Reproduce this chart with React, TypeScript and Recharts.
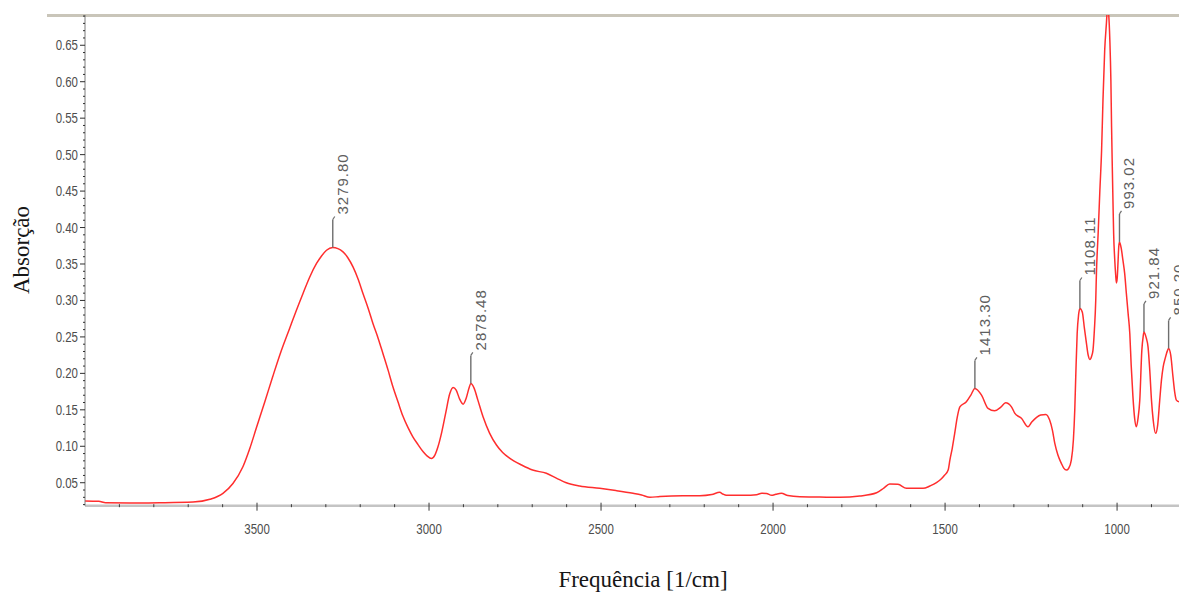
import React from 'react';
import { LineChart, Line, XAxis, YAxis, ReferenceDot } from 'recharts';

// FTIR absorbance spectrum, wavenumber in 1/cm (descending), absorbance values
const wavenumbers = [
  4000, 3960, 3940, 3870, 3783, 3686, 3637, 3599, 3570, 3541, 3521, 3502, 3478, 3454, 3431, 3405,
  3386, 3366, 3347, 3327, 3313, 3298, 3279.8, 3250, 3236, 3221, 3206, 3192, 3177, 3163, 3148, 3134,
  3119, 3105, 3090, 3076, 3061, 3047, 3032, 3017, 3005, 2993, 2983, 2974, 2963, 2951, 2940, 2930,
  2921, 2911, 2901, 2892, 2883, 2878.48, 2869, 2858, 2843, 2824, 2804, 2786, 2765, 2731, 2699, 2659,
  2630, 2601, 2562, 2504, 2457, 2407, 2382, 2358, 2329, 2263, 2213, 2178, 2155, 2146, 2136, 2082,
  2048, 2033, 2019, 2004, 1992, 1976, 1957, 1922, 1864, 1806, 1748, 1699, 1678, 1661, 1637, 1612,
  1588, 1564, 1544, 1525, 1513, 1501, 1491, 1486, 1479, 1472, 1465, 1457, 1438, 1425, 1413.3, 1394,
  1375, 1356, 1338, 1324, 1307, 1297, 1278, 1259, 1248, 1234, 1222, 1207, 1196, 1188, 1181, 1172,
  1162, 1155, 1147, 1141, 1133, 1127, 1123, 1120, 1116, 1112, 1108.11, 1101, 1095, 1089, 1084, 1079,
  1074, 1070, 1066, 1062, 1060, 1055, 1050, 1045, 1041, 1036, 1031, 1028, 1025, 1021, 1018, 1016,
  1014, 1012, 1010, 1007, 1004, 1002, 999.6, 997, 995, 993.02, 988, 983, 978, 973, 968, 963,
  959, 954, 949, 944, 939, 934, 928, 924, 921.84, 915, 910, 905, 900, 895, 888, 882,
  876, 871, 866, 860, 854, 850.2, 844, 837.5, 832.5, 827.6, 820,
];

const absorbance = [
  0.025, 0.0245, 0.0225, 0.0222, 0.0225, 0.0235, 0.0273, 0.0355, 0.049, 0.072, 0.097, 0.125, 0.16, 0.196, 0.229, 0.262,
  0.286, 0.31, 0.3319, 0.3507, 0.3607, 0.3689, 0.3726, 0.3666, 0.3586, 0.346, 0.3291, 0.3096, 0.2894, 0.2684, 0.2483, 0.2273,
  0.2044, 0.1816, 0.1606, 0.1414, 0.1255, 0.113, 0.1023, 0.0925, 0.0866, 0.0834, 0.088, 0.0993, 0.1195, 0.1469, 0.1716, 0.1807,
  0.177, 0.1647, 0.1578, 0.166, 0.1811, 0.1862, 0.1798, 0.1633, 0.1404, 0.1181, 0.1017, 0.0914, 0.0834, 0.0743, 0.0674, 0.0629,
  0.0564, 0.05, 0.0455, 0.0423, 0.0393, 0.0355, 0.0331, 0.03, 0.0311, 0.0322, 0.0322, 0.0338, 0.0368, 0.0345, 0.0327, 0.0327,
  0.0336, 0.0355, 0.0352, 0.0327, 0.0341, 0.0355, 0.0325, 0.0308, 0.0304, 0.03, 0.0318, 0.0363, 0.0427, 0.0482, 0.0478, 0.0423,
  0.0423, 0.0423, 0.0455, 0.05, 0.0544, 0.0606, 0.0674, 0.0811, 0.0976, 0.1177, 0.1387, 0.1541, 0.161, 0.1702, 0.1794, 0.1702,
  0.152, 0.1487, 0.1537, 0.1596, 0.1541, 0.1451, 0.1383, 0.1267, 0.1332, 0.1396, 0.1428, 0.1437, 0.1359, 0.1222, 0.104, 0.088,
  0.0766, 0.0701, 0.0674, 0.0695, 0.0811, 0.1085, 0.1496, 0.1976, 0.2547, 0.2798, 0.289, 0.2839, 0.262, 0.241, 0.225, 0.2191,
  0.2236, 0.2319, 0.2593, 0.3004, 0.3374, 0.3922, 0.4511, 0.5059, 0.5745, 0.643, 0.68, 0.7, 0.695, 0.6567, 0.6018, 0.5379,
  0.4854, 0.4374, 0.3922, 0.3579, 0.3346, 0.3241, 0.3305, 0.3552, 0.3744, 0.3803, 0.3717, 0.3552, 0.3374, 0.3096, 0.2826, 0.2547,
  0.2113, 0.1688, 0.1387, 0.1267, 0.1387, 0.1633, 0.2319, 0.251, 0.2569, 0.2483, 0.2364, 0.2044, 0.1633, 0.1359, 0.1177, 0.1291,
  0.1633, 0.1907, 0.209, 0.2209, 0.2305, 0.2342, 0.225, 0.1953, 0.1743, 0.1633, 0.161,
];

// Annotated peak positions and their printed labels
const peakWavenumbers = [3279.8, 2878.48, 1413.3, 1108.11, 993.02, 921.84, 850.2];
const peakLabels = ['3279.80', '2878.48', '1413.30', '1108.11', '993.02', '921.84', '850.20'];

// Axis tick labels
const xTickLabels = [3500, 3000, 2500, 2000, 1500, 1000];
const yTickLabels = ['0.05', '0.10', '0.15', '0.20', '0.25', '0.30', '0.35', '0.40', '0.45', '0.50', '0.55', '0.60', '0.65'];

const X_DOMAIN: [number, number] = [820, 4000];
const Y_DOMAIN: [number, number] = [0.0185, 0.6915];

const spectrum = wavenumbers.map((wn, i) => ({ wn, abs: absorbance[i] }));

const xMinorTicks: number[] = [];
for (let w = 900; w <= 3900; w += 100) xMinorTicks.push(w);
const yMinorTicks: number[] = [];
for (let k = 2; k <= 69; k++) yMinorTicks.push(k / 100);

const xMajorSet = new Set(xTickLabels);
const yMajorSet = new Set(yTickLabels);

const TICK_FONT = '"Liberation Sans", Arial, sans-serif';
const TICK_COLOR = '#4d4d4d';

const XTick = (props: any) => {
  const { x, y, payload } = props;
  const v = payload.value as number;
  const major = xMajorSet.has(v);
  return (
    <g>
      <line x1={x} x2={x} y1={major ? y - 3 : y - 1.5} y2={major ? y + 5 : y + 1.5} stroke="#3a3a3a" strokeWidth={1} />
      {major && (
        <text
          transform={`translate(${x},${y + 28}) scale(0.82,1)`}
          textAnchor="middle"
          fontSize={14}
          fontFamily={TICK_FONT}
          fill={TICK_COLOR}
        >
          {v}
        </text>
      )}
    </g>
  );
};

const YTick = (props: any) => {
  const { x, y, payload } = props;
  const v = payload.value as number;
  const label = v.toFixed(2);
  const major = yMajorSet.has(label);
  return (
    <g>
      <line x1={major ? x - 5 : x - 2} x2={x} y1={y} y2={y} stroke="#2e2e2e" strokeWidth={1} />
      {major && (
        <text
          transform={`translate(${x - 7},${y}) scale(0.82,1)`}
          dy="0.36em"
          textAnchor="end"
          fontSize={14}
          fontFamily={TICK_FONT}
          fill={TICK_COLOR}
        >
          {label}
        </text>
      )}
    </g>
  );
};

const PeakMarker = (props: any) => {
  const { cx, cy, text } = props;
  if (cx == null || cy == null) return <g />;
  const top = cy - 28;
  return (
    <g>
      <line x1={cx} y1={cy} x2={cx} y2={top} stroke="#6e6e6e" strokeWidth={1.4} />
      <line x1={cx} y1={top} x2={cx + 2} y2={top - 3} stroke="#6e6e6e" strokeWidth={1.2} />
      <text
        transform={`translate(${cx + 15},${top - 5}) rotate(-90)`}
        fontSize={15}
        letterSpacing={1}
        fontFamily='"Liberation Sans", Arial, sans-serif'
        fill="#5e5e5e"
      >
        {text}
      </text>
    </g>
  );
};

const YTitle = () => (
  <text
    transform="translate(29,250) rotate(-90)"
    textAnchor="middle"
    fontSize={23}
    fontFamily='"Liberation Serif", "Times New Roman", serif'
    fill="#161616"
  >
    Absorção
  </text>
);

const XTitle = () => (
  <text
    x={643}
    y={587}
    textAnchor="middle"
    fontSize={23}
    fontFamily='"Liberation Serif", "Times New Roman", serif'
    fill="#161616"
  >
    Frequência [1/cm]
  </text>
);

export default function App() {
  return (
    <div style={{ position: 'absolute', left: 0, top: 0, width: 1179, height: 593, background: '#ffffff', overflow: 'hidden' }}>
      <div style={{ position: 'absolute', left: 47, top: 13.5, width: 1132, height: 3, background: '#c9c5b9' }} />
      <LineChart
        width={1179}
        height={593}
        data={spectrum}
        margin={{ top: 15, right: 0, bottom: 57.3, left: 0 }}
      >
        <XAxis
          dataKey="wn"
          type="number"
          domain={X_DOMAIN}
          reversed
          allowDataOverflow
          ticks={xMinorTicks}
          interval={0}
          tickSize={0}
          tickMargin={0}
          height={30}
          axisLine={{ stroke: '#c4c4c4', strokeWidth: 2.5 }}
          tickLine={false}
          tick={<XTick />}
          label={<XTitle />}
        />
        <YAxis
          type="number"
          domain={Y_DOMAIN}
          allowDataOverflow
          ticks={yMinorTicks}
          interval={0}
          tickSize={0}
          tickMargin={0}
          width={85}
          axisLine={{ stroke: '#7a7a7a', strokeWidth: 1 }}
          tickLine={false}
          tick={<YTick />}
          label={<YTitle />}
        />
        <Line
          type="monotone"
          dataKey="abs"
          stroke="#ff2e2e"
          strokeWidth={1.5}
          dot={false}
          activeDot={false}
          isAnimationActive={false}
        />
        {peakWavenumbers.map((wn, i) => (
          <ReferenceDot
            key={peakLabels[i]}
            x={wn}
            y={absorbance[wavenumbers.indexOf(wn)]}
            r={0}
            shape={(p: any) => <PeakMarker cx={p.cx} cy={p.cy} text={peakLabels[i]} />}
          />
        ))}
      </LineChart>
    </div>
  );
}
